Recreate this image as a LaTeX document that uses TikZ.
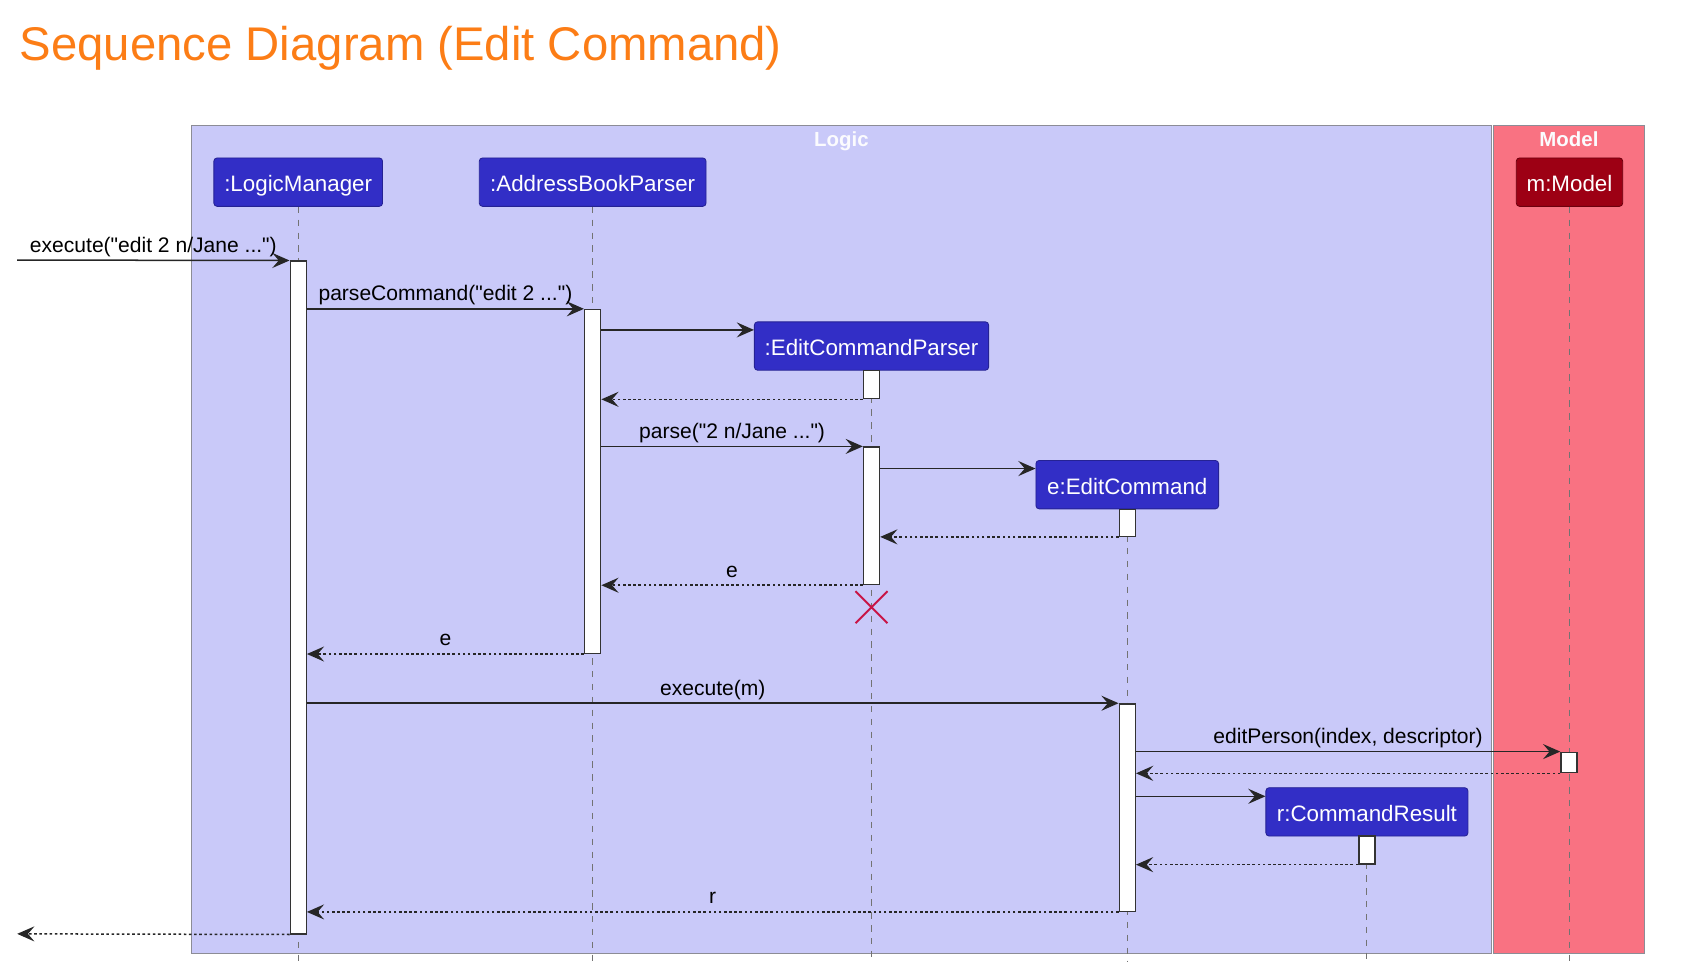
\documentclass[tikz,border=0pt]{standalone}
\usepackage{fontspec}
\setmainfont{Liberation Sans}[Ligatures=TeXOff]
\usetikzlibrary{arrows.meta,shapes.misc}
\definecolor{titleorange}{RGB}{252,125,22}
\definecolor{logicbg}{RGB}{201,201,249}
\definecolor{modelbg}{RGB}{249,114,130}
\definecolor{partblue}{RGB}{50,46,198}
\definecolor{partred}{RGB}{157,0,20}
\definecolor{killred}{RGB}{200,20,70}
\definecolor{framegray}{RGB}{140,140,150}

\begin{document}
\begin{tikzpicture}[
    x=0.5pt, y=-0.5pt,
    frame/.style={rectangle, draw=framegray, line width=0.6pt, inner sep=0pt},
    grouplbl/.style={anchor=base, text=white!92!logicbg, font=\fontsize{9.5}{11}\bfseries, inner sep=0pt},
    part/.style={rectangle, draw=partblue!75!black, fill=partblue, rounded corners=1.5pt,
                 text=white, font=\fontsize{10.4}{12}\selectfont,
                 text height=9pt, text depth=0pt,
                 minimum height=22.5pt, inner sep=0pt},
    bar/.style={rectangle, draw=black!80, fill=white, line width=0.6pt,
                minimum width=7.5pt, inner sep=0pt},
    life/.style={draw=black!55, line width=0.5pt, dash pattern=on 3pt off 3pt},
    msg/.style={-{Stealth[length=8pt, width=7pt, inset=3pt]}, line width=0.7pt, draw=black!85},
    ret/.style={msg, dash pattern=on 1.2pt off 1.2pt},
    lbl/.style={anchor=base, yshift=3.8pt, font=\fontsize{9.8}{12}\selectfont, inner sep=0pt}
]
\useasboundingbox (0,0) rectangle (1568,910);

\node[anchor=base west, text=titleorange, font=\fontsize{22}{26}\selectfont, inner sep=0pt]
    (title) at (18,56) {Sequence Diagram (Edit Command)};

% boxes
\node[frame, fill=logicbg, minimum width=605pt, minimum height=385pt] (logic) at (783,502) {};
\node[frame, fill=modelbg, minimum width=70pt, minimum height=385pt] (model) at (1460,502) {};
\node[grouplbl] (logicT) at (783,136) {Logic};
\node[grouplbl] (modelT) at (1460,136) {Model};

% participants
\node[part, minimum width=78.5pt]  (lm)  at (277.5,169.5) {:LogicManager};
\node[part, minimum width=105.5pt] (abp) at (551.5,169.5) {:AddressBookParser};
\node[part, fill=partred, draw=partred!70!black, minimum width=49.5pt] (mdl) at (1460.5,169.5) {m:Model};
\node[part, minimum width=109pt]   (ecp) at (811,322) {:EditCommandParser};
\node[part, minimum width=85pt]    (ec)  at (1049,451) {e:EditCommand};
\node[part, minimum width=94pt]    (cr)  at (1272,755.5) {r:CommandResult};

\coordinate (bot) at (0,895);
\foreach \p in {lm,abp,ecp,ec,cr,mdl}
    \draw[life] (\p.south) -- (\p.south |- bot);

% activations
\node[bar, minimum height=313pt]  (lmA)  at (277.5,556) {};
\node[bar, minimum height=160pt]  (abpA) at (551.5,448) {};
\node[bar, minimum height=13pt]   (ecpA) at (811,358) {};
\node[bar, minimum height=64pt]   (ecpB) at (811,480) {};
\node[bar, minimum height=12.5pt] (ecA)  at (1049,486.5) {};
\node[bar, minimum height=96.5pt] (ecB)  at (1049,751.5) {};
\node[bar, minimum height=9.5pt]  (mdlA) at (1460,709.5) {};
\node[bar, minimum height=13pt]   (crA)  at (1272,791) {};

\node[cross out, draw=killred, line width=0.9pt, minimum size=14pt, inner sep=0pt] (ecpX) at (811,565) {};

\coordinate (in)  at (16,242);
\coordinate (out) at (16,869);

% messages
\draw[msg] (in) -- (lmA.north west) node[midway, lbl] {execute("edit 2 n/Jane ...")};
\draw[msg] (abpA.north west -| lmA.east) -- (abpA.north west) node[midway, lbl] {parseCommand("edit 2 ...")};
\draw[msg] (abpA.east |- 0,307) -- (ecp.west |- 0,307);
\draw[ret] (ecpA.south west) -- (ecpA.south west -| abpA.east);
\draw[msg] (ecpB.north west -| abpA.east) -- (ecpB.north west) node[midway, lbl] {parse("2 n/Jane ...")};
\draw[msg] (ecpB.east |- 0,436) -- (ec.west |- 0,436);
\draw[ret] (ecA.south west) -- (ecA.south west -| ecpB.east);
\draw[ret] (ecpB.south west) -- (ecpB.south west -| abpA.east) node[midway, lbl] {e};
\draw[ret] (abpA.south west) -- (abpA.south west -| lmA.east) node[midway, lbl] {e};
\draw[msg] (ecB.north west -| lmA.east) -- (ecB.north west) node[midway, lbl] {execute(m)};
\draw[msg] (mdlA.north west -| ecB.east) -- (mdlA.north west) node[midway, lbl] {editPerson(index, descriptor)};
\draw[ret] (mdlA.south west) -- (mdlA.south west -| ecB.east);
\draw[msg] (ecB.east |- 0,741) -- (cr.west |- 0,741);
\draw[ret] (crA.south west) -- (crA.south west -| ecB.east);
\draw[ret] (ecB.south west) -- (ecB.south west -| lmA.east) node[midway, lbl] {r};
\draw[ret] (lmA.south west) -- (out);
\end{tikzpicture}
\end{document}
